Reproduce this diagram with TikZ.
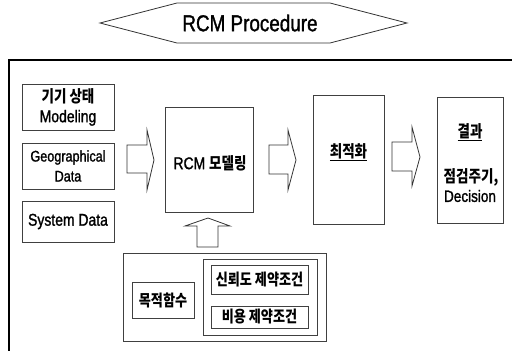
\documentclass[tikz,border=0pt]{standalone}
\usepackage{fontspec}
\setmainfont{Liberation Sans}[FakeStretch=0.82,FakeBold=1.3]
\newfontfamily\kr{Noto Sans CJK KR}[FakeStretch=0.82]
\begin{document}
\begin{tikzpicture}[x=1pt,y=-1pt,
  boxst/.style={draw=black!75,line width=0.9pt,inner sep=0pt,align=center,font=\fontsize{17}{20}\selectfont},
  blockarrow/.style={draw=black!80,line width=0.8pt,line join=miter},
  txt/.style={inner sep=0pt,align=center,font=\fontsize{17}{20}\selectfont},
  krt/.style={inner sep=0pt,align=center,font=\kr\bfseries\fontsize{16.5}{20}\selectfont}]
\useasboundingbox (0,0) rectangle (512,351);
% title hexagon
\draw[blockarrow] (100,23) -- (177,3) -- (330,3) -- (407,23) -- (330,43) -- (177,43) -- cycle;
\node[txt,font=\fontsize{23}{26}\selectfont] (title) at (250,23) {RCM Procedure};
% outer frame (cropped)
\begin{scope}
\clip (0,0) rectangle (512,351);
\draw[line width=2pt,black] (9,360) -- (9,60) -- (530,60);
\end{scope}
% input boxes
\node[boxst,minimum width=92pt,minimum height=46pt] (m1) at (68,107) {{\kr\bfseries\fontsize{16.5}{20}\selectfont 기기 상태}\\Modeling};
\node[boxst,minimum width=92pt,minimum height=46pt,font=\fontsize{15.4}{20}\selectfont] (geo) at (68,166) {Geographical\\Data};
\node[boxst,minimum width=92pt,minimum height=41pt] (sys) at (68,221.5) {System Data};
% RCM modelling
\node[boxst,minimum width=88pt,minimum height=105pt] (rcm) at (209,159.5) {};
\node[txt] (rcmt) at (210,163) {RCM {\kr\bfseries\fontsize{16.5}{20}\selectfont 모델링}};
% optimisation
\node[boxst,minimum width=71pt,minimum height=129pt] (opt) at (348.5,159.5) {};
\node[krt] (optt) at (348.5,152) {\underline{최적화}};
% result
\node[boxst,minimum width=66pt,minimum height=126pt] (res) at (470,160) {};
\node[krt] (rest1) at (470,132) {\underline{결과}};
\node[krt] (rest2) at (471,177) {점검주기,};
\node[txt,font=\fontsize{16.5}{20}\selectfont] (rest3) at (470,196) {Decision};
% constraints
\node[boxst,minimum width=203pt,minimum height=88pt] (cons) at (224.5,297) {};
\node[boxst,minimum width=114pt,minimum height=76pt] (grp) at (260,297) {};
\node[boxst,minimum width=62pt,minimum height=36pt,font=\kr\bfseries\fontsize{16}{18}\selectfont] (obj) at (163,300) {목적함수};
\node[boxst,minimum width=97pt,minimum height=29pt,font=\kr\bfseries\fontsize{16}{18}\selectfont] (rel) at (259.5,279.5) {신뢰도 제약조건};
\node[boxst,minimum width=97pt,minimum height=22pt,font=\kr\bfseries\fontsize{16}{18}\selectfont] (cost) at (259.5,317) {비용 제약조건};
% block arrows
\draw[blockarrow] (127,145) -- (147,145) -- (147,130) -- (154,160) -- (147,190) -- (147,173) -- (127,173) -- cycle;
\draw[blockarrow] (269,145) -- (288,145) -- (288,130) -- (296,160) -- (288,190) -- (288,174) -- (269,174) -- cycle;
\draw[blockarrow] (392,142) -- (412,142) -- (412,127) -- (420,157) -- (412,186) -- (412,171) -- (392,171) -- cycle;
\draw[blockarrow] (197,247) -- (197,226) -- (185,226) -- (208,218) -- (230,226) -- (218,226) -- (218,247) -- cycle;
\end{tikzpicture}
\end{document}
